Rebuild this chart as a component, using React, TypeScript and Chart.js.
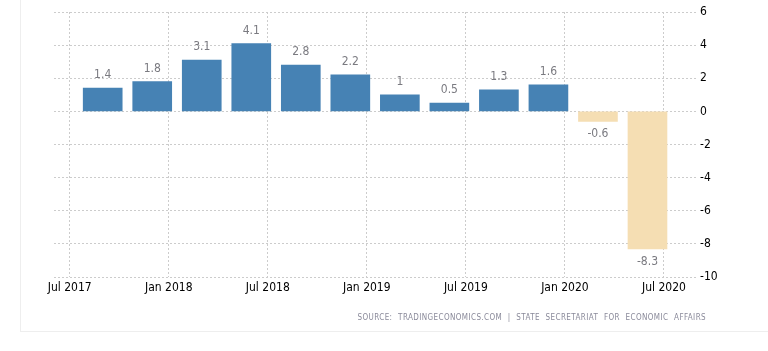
import React, { useEffect, useRef } from "react";
import { Chart, registerables } from "chart.js";

Chart.register(...registerables);

// Quarterly GDP growth (YoY, %)
const quarters = ["2017 Q3", "2017 Q4", "2018 Q1", "2018 Q2", "2018 Q3", "2018 Q4", "2019 Q1", "2019 Q2", "2019 Q3", "2019 Q4", "2020 Q1", "2020 Q2"];
const growth = [1.4, 1.8, 3.1, 4.1, 2.8, 2.2, 1.0, 0.5, 1.3, 1.6, -0.6, -8.3];
const tickLabels = ["Jul 2017", "Jan 2018", "Jul 2018", "Jan 2019", "Jul 2019", "Jan 2020", "Jul 2020"];
const yTicks = [6, 4, 2, 0, -2, -4, -6, -8, -10];

const FONT = "'DejaVu Sans Condensed', 'DejaVu Sans', sans-serif";
const xTickValues = tickLabels.map((_, i) => i * 6);

// month offset from Jul 2017 for the last month of a quarter
function quarterPos(q: string): number {
  const [y, qq] = q.split(" ");
  const lastMonth = parseInt(qq.slice(1), 10) * 3; // 3,6,9,12
  return (parseInt(y, 10) - 2017) * 12 + (lastMonth - 7);
}

const valueLabels = {
  id: "valueLabels",
  afterDatasetsDraw(chart: any) {
    const ctx = chart.ctx;
    const meta = chart.getDatasetMeta(0);
    ctx.save();
    ctx.font = `12px ${FONT}`;
    ctx.fillStyle = "#7a7a80";
    ctx.textAlign = "center";
    ctx.textBaseline = "middle";
    meta.data.forEach((bar: any, i: number) => {
      const v = growth[i];
      const y = v >= 0 ? bar.y - 13 : bar.y + 13;
      ctx.fillText(String(v), bar.x, y);
    });
    ctx.restore();
  },
};

export default function App() {
  const ref = useRef<HTMLCanvasElement | null>(null);
  useEffect(() => {
    if (!ref.current) return;
    const chart = new Chart(ref.current, {
      type: "bar",
      data: {
        datasets: [
          {
            data: quarters.map((q, i) => ({ x: quarterPos(q), y: growth[i] })),
            backgroundColor: growth.map((v) => (v >= 0 ? "#4682B4" : "#F5DEB3")),
            barThickness: 39,
            borderWidth: 0,
          },
        ],
      },
      plugins: [valueLabels],
      options: {
        animation: false,
        responsive: false,
        layout: { padding: { left: 54, top: 12, right: 0, bottom: 0 } },
        plugins: { legend: { display: false }, tooltip: { enabled: false } },
        scales: {
          x: {
            type: "linear",
            min: -0.95,
            max: 38.0,
            offset: false,
            afterBuildTicks: (scale: any) => {
              scale.ticks = xTickValues.map((v) => ({ value: v }));
            },
            afterFit: (scale: any) => {
              scale.height = 74;
            },
            ticks: {
              autoSkip: false,
              maxRotation: 0,
              padding: 4,
              color: "#000",
              font: { family: FONT, size: 12 },
              callback: (v: any) => tickLabels[Math.round(Number(v) / 6)] ?? "",
            },
            grid: { offset: false, color: "#cccccc", lineWidth: 1, drawTicks: false },
            border: { display: false, dash: [2, 2] },
          },
          y: {
            position: "right",
            min: -10,
            max: 6,
            afterBuildTicks: (scale: any) => {
              scale.ticks = yTicks.map((v) => ({ value: v }));
            },
            afterFit: (scale: any) => {
              scale.width = 71;
            },
            ticks: { padding: 3, color: "#000", font: { family: FONT, size: 12 } },
            grid: { color: "#cccccc", lineWidth: 1, drawTicks: false },
            border: { display: false, dash: [2, 2] },
          },
        },
      },
    } as any);
    return () => chart.destroy();
  }, []);

  return (
    <div style={{ position: "fixed", left: 0, top: 0, width: 768, height: 351, background: "#fff", overflow: "hidden" }}>
      <div
        style={{
          position: "absolute",
          left: 20,
          top: 0,
          width: 748,
          height: 332,
          boxSizing: "border-box",
          borderLeft: "1px solid #eeeeee",
          borderBottom: "1px solid #eeeeee",
        }}
      />
      <canvas ref={ref} width={768} height={351} style={{ position: "absolute", left: 0, top: 0, width: 768, height: 351 }} />
      <div
        style={{
          position: "absolute",
          right: 62,
          top: 313,
          fontFamily: FONT,
          fontSize: 8,
          color: "#8a8a9a",
          letterSpacing: 0.4,
          wordSpacing: 3,
          whiteSpace: "nowrap",
          lineHeight: "10px",
        }}
      >
        SOURCE: TRADINGECONOMICS.COM | STATE SECRETARIAT FOR ECONOMIC AFFAIRS
      </div>
    </div>
  );
}
